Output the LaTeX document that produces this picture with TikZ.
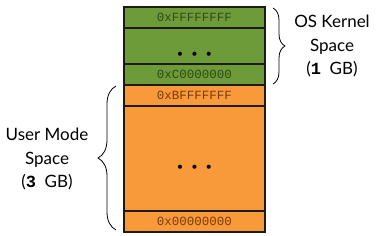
\documentclass[tikz,border=0pt]{standalone}
\usepackage{fontspec}
\setmainfont{Lato}
\setmonofont{Liberation Mono}
\usetikzlibrary{positioning,decorations.pathreplacing}
\definecolor{kernel}{HTML}{6E9B3A}
\definecolor{kerneltext}{HTML}{2F4A12}
\definecolor{user}{HTML}{F8993A}
\definecolor{usertext}{HTML}{7A3A08}
\definecolor{outline}{HTML}{1E1A10}

\begin{document}
\begin{tikzpicture}[x=1pt, y=-1pt, font=\fontsize{17}{23.5}\selectfont,
  cell/.style={draw=outline, line width=1.1pt, minimum width=141pt,
    inner sep=0pt, outer sep=0pt, font=\ttfamily\fontsize{12.5}{12.5}\selectfont},
  kcell/.style={cell, fill=kernel, text=kerneltext},
  ucell/.style={cell, fill=user, text=usertext},
  dots/.style={font=\fontsize{11}{11}\selectfont, text=black},
  span/.style={decorate, decoration={brace, amplitude=#1}, draw=black, line width=0.8pt},
  span/.default=12pt,
  note/.style={align=center}]
  \useasboundingbox (0,0) rectangle (376,236);

  % memory map, top address first
  \node[kcell, minimum height=21pt, anchor=north west] (kfff) at (124,7) {0xFFFFFFFF};
  \node[kcell, minimum height=36pt, below=0pt of kfff] (kmid) {};
  \node[kcell, minimum height=21pt, below=0pt of kmid] (kc00) {0xC0000000};
  \node[ucell, minimum height=21pt, below=0pt of kc00] (ubff) {0xBFFFFFFF};
  \node[ucell, minimum height=105pt, below=0pt of ubff] (umid) {};
  \node[ucell, minimum height=21pt, below=0pt of umid] (u000) {0x00000000};

  \node[dots] (kdots) at ([yshift=-9pt]kmid.center) {•\hspace{8pt}•\hspace{8pt}•};
  \node[dots] (udots) at ([yshift=-9pt]umid.center) {•\hspace{8pt}•\hspace{8pt}•};

  % braces
  \coordinate (ktop) at ([xshift=8pt,yshift=-1pt]kfff.north east);
  \coordinate (kbot) at ([xshift=8pt,yshift=1pt]kc00.south east);
  \draw[span] (ktop) -- (kbot);
  \coordinate (utop) at ([xshift=-8pt,yshift=-1pt]ubff.north west);
  \coordinate (ubot) at ([xshift=-8pt,yshift=2pt]u000.south west);
  \draw[span=18pt] (ubot) -- (utop);

  \node[note] (kernelnote) at (332,46) {OS Kernel\\Space\\(\texttt{\bfseries 1}\ \ GB)};
  \node[note] (usernote) at (47,159) {User Mode\\Space\\(\texttt{\bfseries 3}\ \ GB)};
\end{tikzpicture}
\end{document}
